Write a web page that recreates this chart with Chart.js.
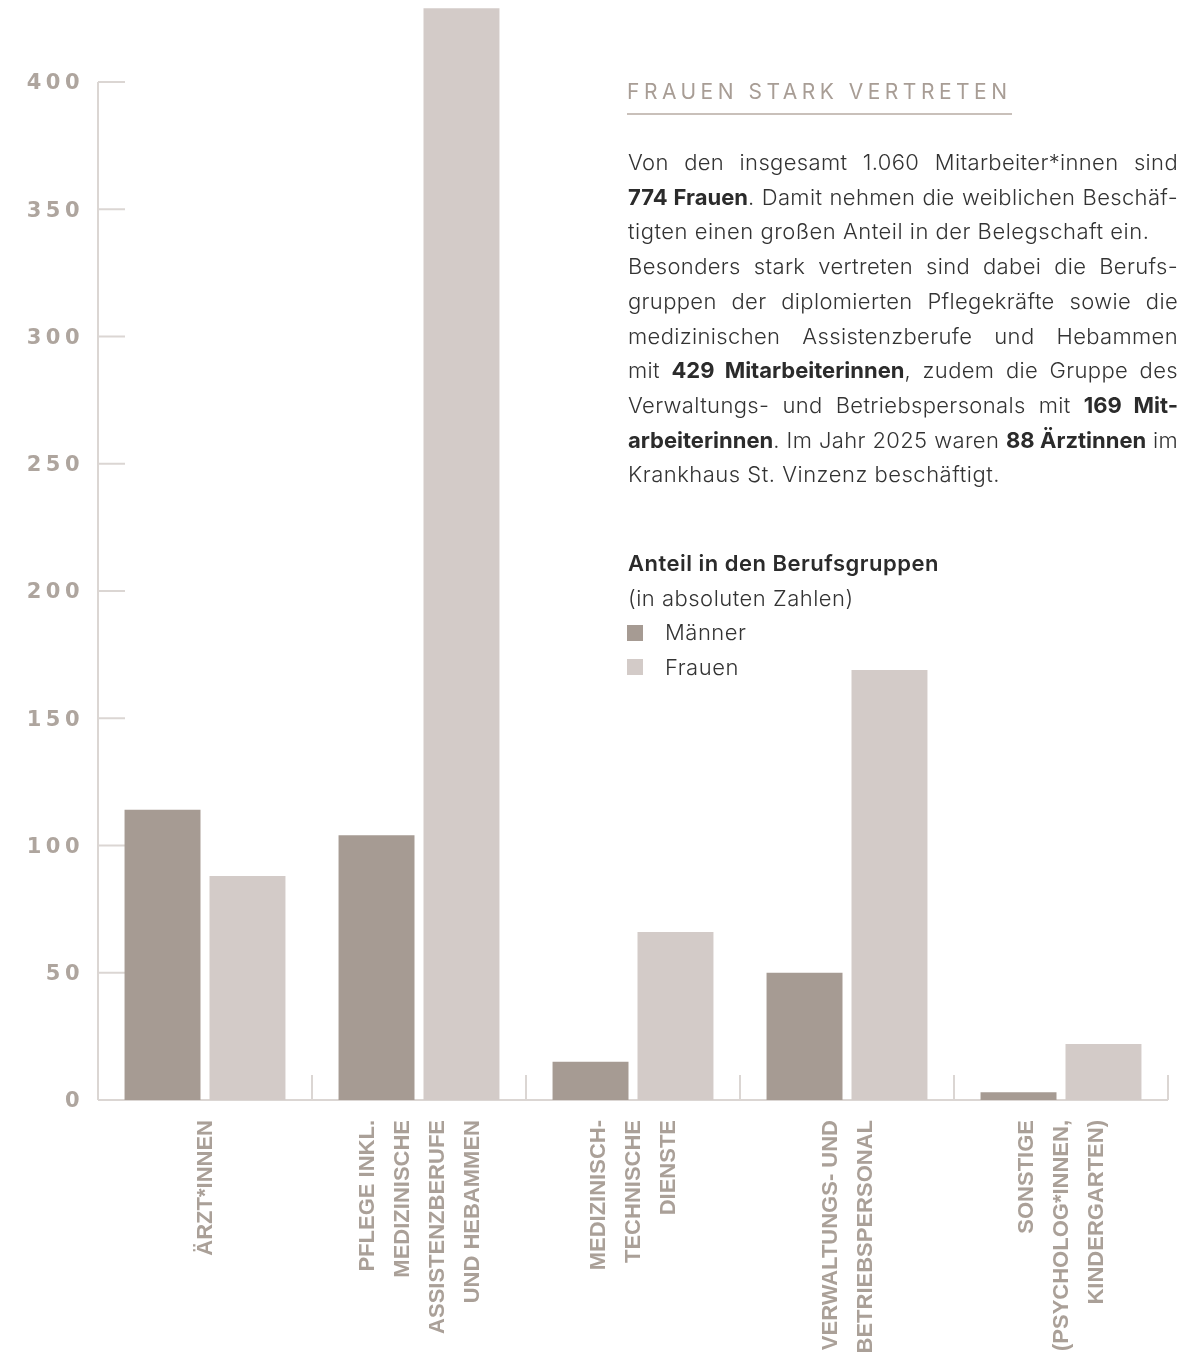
<!DOCTYPE html>
<html lang="de">
<head>
<meta charset="utf-8">
<title>Frauen stark vertreten</title>
<script src="https://cdn.jsdelivr.net/npm/chart.js@4.4.1/dist/chart.umd.min.js"></script>
<style>
  html, body { margin: 0; padding: 0; background: #fff; }
  #wrap { position: relative; width: 1186px; height: 1355px; overflow: hidden; }
  #chartBox { position: absolute; left: 0; top: 0; width: 1186px; height: 1355px; }
  .panel { position: absolute; left: 628px; width: 550px; font-family: Inter, Roboto, sans-serif; color: #333; }
  .title {
    top: 79px; left: 627px; font-size: 21px; font-weight: 400; letter-spacing: 4.5px; color: #a89d95;
    width: auto; padding-bottom: 8px; border-bottom: 2px solid #c9c0ba; line-height: 26px;
  }
  .text { top: 145px; font-size: 22px; font-weight: 300; line-height: 34.7px; letter-spacing: 0.35px; }
  .text div { text-align: justify; text-align-last: justify; white-space: nowrap; }
  .text div.last { text-align-last: left; letter-spacing: 0.5px; }
  .text b { font-weight: 700; color: #2b2b2b; letter-spacing: 0; }
  .legend { top: 546px; font-size: 22px; line-height: 34.7px; font-weight: 300; letter-spacing: 0.5px; }
  .legend .head { font-weight: 600; color: #2b2b2b; }
  .legend .item { display: flex; align-items: center; }
  .legend .sw { width: 16px; height: 16px; margin-right: 22px; margin-left: -1px; }
</style>
</head>
<body>
<div id="wrap">
  <div id="chartBox"><canvas id="berufChart"></canvas></div>

  <div class="panel title">FRAUEN STARK VERTRETEN</div>

  <div class="panel text">
    <div>Von den insgesamt 1.060 Mitarbeiter*innen sind</div>
    <div><b>774 Frauen</b>. Damit nehmen die weiblichen Beschäf-</div>
    <div class="last">tigten einen großen Anteil in der Belegschaft ein.</div>
    <div>Besonders stark vertreten sind dabei die Berufs-</div>
    <div>gruppen der diplomierten Pflegekräfte sowie die</div>
    <div>medizinischen Assistenzberufe und Hebammen</div>
    <div>mit <b>429 Mitarbeiterinnen</b>, zudem die Gruppe des</div>
    <div>Verwaltungs- und Betriebspersonals mit <b>169 Mit-</b></div>
    <div><b>arbeiterinnen</b>. Im Jahr 2025 waren <b>88 Ärztinnen</b> im</div>
    <div class="last">Krankhaus St. Vinzenz beschäftigt.</div>
  </div>

  <div class="panel legend" id="legend">
    <div class="head">Anteil in den Berufsgruppen</div>
    <div>(in absoluten Zahlen)</div>
  </div>
</div>

<script>
// === Daten ===
const categories = [
  ['ÄRZT*INNEN'],
  ['PFLEGE INKL.', 'MEDIZINISCHE', 'ASSISTENZBERUFE', 'UND HEBAMMEN'],
  ['MEDIZINISCH-', 'TECHNISCHE', 'DIENSTE'],
  ['VERWALTUNGS- UND', 'BETRIEBSPERSONAL'],
  ['SONSTIGE', '(PSYCHOLOG*INNEN,', 'KINDERGARTEN)']
];
const seriesLabels = ['Männer', 'Frauen'];
const maenner = [114, 104, 15, 50, 3];
const frauen = [88, 429, 66, 169, 22];
const yTicks = [0, 50, 100, 150, 200, 250, 300, 350, 400];

// === Farben ===
const colMaenner = '#a69b93';
const colFrauen = '#d3cbc8';
const axisColor = '#dbd6d3';
const labelColor = '#aaa098';

// Achsen, Tickstriche und gedrehte Kategorie-Beschriftung
const axisDecor = {
  id: 'axisDecor',
  beforeDraw(chart) {
    chart.ctx.letterSpacing = '4.5px'; // nur für die y-Ticks
  },
  beforeDatasetsDraw(chart) {
    const { ctx, scales: { x, y } } = chart;
    ctx.letterSpacing = '0px';
    ctx.save();
    ctx.strokeStyle = axisColor;
    ctx.lineWidth = 2;
    const bottom = y.getPixelForValue(0);
    const top = y.getPixelForValue(yTicks[yTicks.length - 1]);

    ctx.beginPath();
    // y-Achse
    ctx.moveTo(x.left, top);
    ctx.lineTo(x.left, bottom);
    // Tickstriche nach innen
    yTicks.forEach(v => {
      if (v === 0) return;
      const py = y.getPixelForValue(v);
      ctx.moveTo(x.left, py);
      ctx.lineTo(x.left + 27, py);
    });
    // x-Achse
    ctx.moveTo(x.left, bottom);
    ctx.lineTo(x.right, bottom);
    // Kategoriegrenzen
    const cw = (x.right - x.left) / categories.length;
    for (let k = 0; k <= categories.length; k++) {
      const px = x.left + k * cw;
      ctx.moveTo(px, bottom);
      ctx.lineTo(px, bottom - 25);
    }
    ctx.stroke();
    ctx.restore();
  },
  afterDraw(chart) {
    const { ctx, scales: { x, y } } = chart;
    const bottom = y.getPixelForValue(0);
    ctx.save();
    ctx.font = 'bold 22px "Liberation Sans", Arial, sans-serif';
    ctx.letterSpacing = '0px';
    ctx.fillStyle = labelColor;
    ctx.textAlign = 'right';
    ctx.textBaseline = 'middle';
    categories.forEach((lines, i) => {
      const cx = x.getPixelForValue(i);
      const n = lines.length;
      lines.forEach((line, j) => {
        ctx.save();
        ctx.translate(cx + (j - (n - 1) / 2) * 35 + 1, bottom + 20);
        ctx.rotate(-Math.PI / 2);
        ctx.fillText(line, 0, 0);
        ctx.restore();
      });
    });
    ctx.restore();
  }
};

const ctxBeruf = document.getElementById('berufChart').getContext('2d');
const berufChart = new Chart(ctxBeruf, {
  type: 'bar',
  data: {
    labels: categories,
    datasets: [
      { label: seriesLabels[0], data: maenner, backgroundColor: colMaenner, clip: false },
      { label: seriesLabels[1], data: frauen, backgroundColor: colFrauen, clip: false }
    ]
  },
  options: {
    responsive: true,
    maintainAspectRatio: false,
    animation: false,
    categoryPercentage: 0.794,
    barPercentage: 0.894,
    layout: { padding: { top: 82, right: 18, left: 0, bottom: 0 } },
    plugins: { legend: { display: false }, tooltip: { enabled: false } },
    scales: {
      x: {
        grid: { display: false },
        border: { display: false },
        ticks: { display: false },
        afterFit: s => { s.height = 255; }
      },
      y: {
        min: 0,
        max: 400,
        grid: { display: false, drawTicks: false },
        border: { display: false },
        afterBuildTicks: s => { s.ticks = yTicks.map(v => ({ value: v })); },
        ticks: {
          padding: 14,
          labelOffset: 2,
          color: '#aea59e',
          font: { family: '"DejaVu Sans", sans-serif', size: 21, weight: 'bold' }
        },
        afterFit: s => { s.width = 98; }
      }
    }
  },
  plugins: [axisDecor]
});

// Legende aus den Datensätzen
const legendEl = document.getElementById('legend');
berufChart.data.datasets.forEach(ds => {
  const row = document.createElement('div');
  row.className = 'item';
  row.innerHTML = `<span class="sw" style="background:${ds.backgroundColor}"></span>${ds.label}`;
  legendEl.appendChild(row);
});
</script>
</body>
</html>
